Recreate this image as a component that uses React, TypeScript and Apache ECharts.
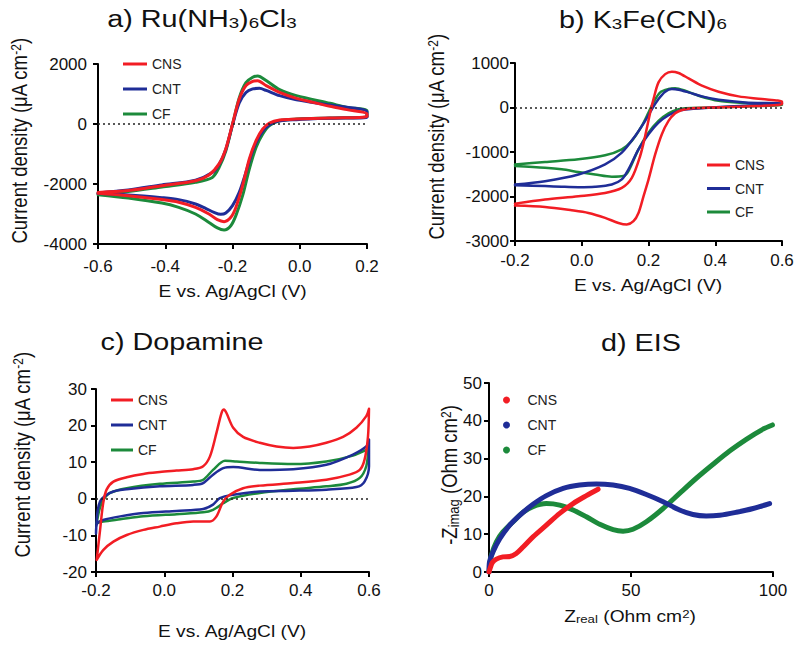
import React, { useEffect, useRef } from "react";
import * as echarts from "echarts";

const FONT = "'Liberation Sans', Arial, Helvetica, sans-serif";
const RED = "#f21d24";
const BLUE = "#1f2d97";
const GREEN = "#1c8a3b";

type P = [number, number];

const legendNames = ["CNS", "CNT", "CF"];

// ---------- a) Ru(NH3)6Cl3 : [E (V), j (uA cm-2)] ----------
const ruCNS: P[] = [
  [-0.6, -2280], [-0.51, -2220], [-0.41, -2055], [-0.31, -1890], [-0.27, -1700], [-0.24, -1330],
  [-0.22, -830], [-0.2, 0], [-0.18, 830], [-0.16, 1280], [-0.14, 1420], [-0.125, 1445],
  [-0.1, 1280], [-0.06, 1055], [-0.01, 855], [0.04, 720], [0.09, 590], [0.14, 480], [0.2, 330],
  [0.2, 245], [0.09, 200], [-0.01, 165], [-0.06, 135], [-0.09, 35], [-0.11, -165], [-0.13, -555],
  [-0.15, -1165], [-0.17, -2055], [-0.19, -2780], [-0.205, -3110], [-0.225, -3255], [-0.245, -3190],
  [-0.27, -3000], [-0.31, -2780], [-0.36, -2610], [-0.41, -2520], [-0.51, -2390], [-0.6, -2310],
];
const ruCNT: P[] = [
  [-0.6, -2300], [-0.51, -2200], [-0.41, -2030], [-0.31, -1870], [-0.26, -1620], [-0.24, -1350],
  [-0.22, -850], [-0.2, -30], [-0.18, 700], [-0.16, 1050], [-0.14, 1170], [-0.12, 1190],
  [-0.1, 1120], [-0.06, 945], [-0.01, 810], [0.09, 630], [0.2, 410],
  [0.2, 220], [0.09, 190], [-0.01, 145], [-0.07, 80], [-0.1, -110], [-0.12, -410], [-0.14, -890],
  [-0.16, -1610], [-0.18, -2280], [-0.2, -2720], [-0.22, -2965], [-0.235, -3010], [-0.255, -2945],
  [-0.28, -2810], [-0.31, -2665], [-0.36, -2520], [-0.41, -2455], [-0.51, -2365], [-0.6, -2320],
];
const ruCF: P[] = [
  [-0.6, -2330], [-0.51, -2250], [-0.41, -2100], [-0.31, -1945], [-0.26, -1780], [-0.24, -1450],
  [-0.22, -900], [-0.2, -20], [-0.18, 870], [-0.16, 1380], [-0.14, 1560], [-0.125, 1600],
  [-0.1, 1450], [-0.06, 1145], [-0.01, 945], [0.09, 690], [0.14, 555], [0.2, 445],
  [0.2, 245], [0.09, 200], [-0.01, 165], [-0.06, 110], [-0.09, -55], [-0.11, -335], [-0.13, -780],
  [-0.15, -1500], [-0.17, -2390], [-0.19, -3055], [-0.205, -3390], [-0.225, -3535], [-0.245, -3465],
  [-0.27, -3280], [-0.31, -3000], [-0.36, -2780], [-0.41, -2635], [-0.51, -2465], [-0.6, -2355],
];

// ---------- b) K3Fe(CN)6 ----------
const feCNS: P[] = [
  [-0.2, -2160], [-0.11, -2070], [-0.01, -1995], [0.07, -1920], [0.12, -1805], [0.15, -1580],
  [0.175, -1090], [0.19, -640], [0.205, -115], [0.215, 190], [0.23, 565], [0.25, 750], [0.27, 805],
  [0.29, 775], [0.32, 655], [0.36, 490], [0.41, 355], [0.47, 250], [0.54, 190], [0.6, 130],
  [0.6, 75], [0.49, 25], [0.39, 0], [0.33, -15], [0.3, -55], [0.28, -130], [0.26, -300], [0.24, -600],
  [0.22, -1055], [0.2, -1620], [0.185, -1995], [0.17, -2370], [0.155, -2555], [0.135, -2630],
  [0.11, -2595], [0.07, -2480], [0.02, -2370], [-0.03, -2310], [-0.11, -2235], [-0.2, -2205],
];
const feCNT: P[] = [
  [-0.2, -1730], [-0.11, -1655], [-0.01, -1505], [0.07, -1280], [0.12, -1015], [0.16, -640],
  [0.19, -300], [0.21, -40], [0.23, 190], [0.25, 355], [0.27, 415], [0.29, 400], [0.32, 340],
  [0.36, 250], [0.41, 175], [0.49, 115], [0.6, 90],
  [0.6, 75], [0.49, 40], [0.39, 0], [0.32, -40], [0.29, -75], [0.26, -175], [0.23, -340], [0.2, -600],
  [0.17, -940], [0.14, -1390], [0.12, -1615], [0.09, -1730], [0.04, -1780], [-0.01, -1790],
  [-0.06, -1780], [-0.11, -1765], [-0.2, -1745],
];
const feCF: P[] = [
  [-0.2, -1280], [-0.11, -1225], [-0.01, -1165], [0.07, -1075], [0.12, -940], [0.15, -750],
  [0.18, -415], [0.2, -115], [0.215, 115], [0.235, 340], [0.26, 415], [0.28, 430], [0.31, 375],
  [0.35, 265], [0.41, 150], [0.49, 100], [0.6, 55],
  [0.6, 55], [0.49, 25], [0.39, 0], [0.31, -15], [0.29, -40], [0.26, -130], [0.23, -300], [0.2, -565],
  [0.17, -940], [0.14, -1430], [0.125, -1540], [0.09, -1555], [0.04, -1505], [-0.01, -1450],
  [-0.06, -1390], [-0.11, -1355], [-0.2, -1315],
];

// ---------- c) Dopamine ----------
const dopCNS: P[] = [
  [-0.198, -16.7], [-0.188, -8.5], [-0.179, -1.2], [-0.169, 2.5], [-0.149, 4.7], [-0.11, 5.9],
  [-0.061, 6.8], [-0.013, 7.3], [0.036, 7.7], [0.085, 8.1], [0.114, 8.9], [0.134, 11.6], [0.153, 18.0],
  [0.168, 23.5], [0.175, 24.4], [0.182, 23.5], [0.202, 19.4], [0.231, 16.9], [0.28, 15.3], [0.329, 14.3],
  [0.378, 13.9], [0.426, 14.3], [0.475, 15.3], [0.524, 16.9], [0.563, 19.4], [0.592, 22.6], [0.6, 24.6],
  [0.597, 17.0], [0.587, 10.7], [0.573, 7.9], [0.543, 6.6], [0.475, 5.2], [0.378, 4.3], [0.28, 3.6],
  [0.231, 2.9], [0.192, 1.1], [0.173, -0.7], [0.153, -4.8], [0.134, -6.2], [0.085, -6.2], [0.036, -6.7],
  [-0.013, -7.6], [-0.061, -8.5], [-0.11, -9.9], [-0.149, -11.7], [-0.179, -14.0], [-0.198, -16.7],
];
const dopCNT: P[] = [
  [-0.2, -9.5], [-0.196, -3.9], [-0.188, -0.7], [-0.173, 0.8], [-0.149, 2.0], [-0.11, 2.6],
  [-0.013, 3.4], [0.085, 3.8], [0.114, 4.3], [0.143, 6.6], [0.173, 8.4], [0.202, 8.7], [0.28, 7.9],
  [0.378, 8.1], [0.475, 9.3], [0.553, 12.1], [0.592, 14.3], [0.6, 16.2],
  [0.6, 8.9], [0.587, 4.7], [0.563, 3.2], [0.475, 2.5], [0.378, 2.2], [0.28, 2.0], [0.202, 1.1],
  [0.163, 0.2], [0.143, -1.6], [0.114, -2.8], [0.036, -3.3], [-0.061, -3.9], [-0.129, -4.8],
  [-0.179, -5.8], [-0.197, -6.8], [-0.2, -9.5],
];
const dopCF: P[] = [
  [-0.198, -6.7], [-0.19, -3.0], [-0.179, -0.3], [-0.159, 1.6], [-0.11, 2.9], [-0.013, 4.1],
  [0.085, 4.7], [0.114, 5.2], [0.143, 7.9], [0.178, 10.4], [0.212, 10.2], [0.28, 9.8], [0.378, 9.5],
  [0.475, 10.2], [0.553, 11.8], [0.592, 13.4], [0.598, 13.9],
  [0.592, 8.9], [0.573, 5.7], [0.534, 4.1], [0.475, 3.4], [0.378, 2.6], [0.28, 1.6], [0.202, 0.2],
  [0.173, -1.2], [0.143, -3.0], [0.114, -3.7], [0.036, -4.2], [-0.061, -4.8], [-0.129, -5.6],
  [-0.179, -6.2], [-0.198, -6.7],
];

// ---------- d) EIS : [Zreal, -Zimag] (Ohm cm2) ----------
const eisCNS: P[] = [
  [0, 0], [0.5, 1.2], [1.2, 2.5], [2.6, 3.4], [4.9, 4.0], [7.3, 4.1], [9.6, 4.9], [12.0, 6.6],
  [15.5, 9.3], [20.2, 12.4], [24.9, 15.5], [29.6, 18.1], [34.3, 20.2], [38.4, 21.9],
];
const eisCNT: P[] = [
  [0, 0], [0.2, 2.7], [1.4, 5.3], [3.8, 8.8], [7.3, 12.4], [10.8, 15.0], [15.5, 17.9], [20.2, 20.2],
  [26.1, 22.1], [31.9, 23.0], [37.8, 23.3], [43.7, 23.0], [49.5, 22.1], [55.4, 20.5], [61.3, 18.6],
  [67.1, 16.4], [71.8, 15.2], [76.5, 14.8], [81.2, 15.0], [87.1, 15.8], [93.0, 16.8], [98.8, 18.1],
];
const eisCF: P[] = [
  [0, 0], [0.3, 2.0], [0.8, 4.4], [2.6, 8.0], [4.9, 10.6], [8.5, 13.3], [12.0, 15.8], [15.5, 17.3],
  [20.2, 18.1], [24.9, 17.7], [29.6, 16.4], [34.3, 14.6], [39.0, 12.6], [43.7, 11.2], [47.2, 10.8],
  [50.7, 11.3], [55.4, 13.3], [61.3, 16.8], [67.1, 20.8], [73.0, 24.8], [78.9, 28.5], [84.7, 32.0],
  [90.6, 35.1], [96.5, 37.8], [99.8, 38.9],
];

const fmt1 = (v: number) => (Math.abs(v) < 1e-9 ? 0 : v).toFixed(1);
const fmt0 = (v: number) => String(Math.round(v));

function curve(name: string, color: string, data: P[], idx: number, width: number, zero = false) {
  const s: any = {
    type: "line",
    name,
    xAxisIndex: idx,
    yAxisIndex: idx,
    data,
    symbol: "none",
    showSymbol: false,
    smooth: 0.3,
    color,
    lineStyle: { color, width, cap: "round", join: "round" },
  };
  if (zero) {
    s.markLine = {
      silent: true,
      symbol: ["none", "none"],
      label: { show: false },
      lineStyle: { type: [2, 3], color: "#222", width: 1.5 },
      data: [{ yAxis: 0 }],
    };
  }
  return s;
}

const axisCommon = {
  type: "value" as const,
  axisLine: { show: true, onZero: false, lineStyle: { color: "#000", width: 2 } },
  axisTick: { show: true, length: 5, lineStyle: { color: "#000", width: 2 } },
  splitLine: { show: false },
};
const lab = (margin: number, formatter: any) => ({
  color: "#111",
  fontSize: 17,
  fontFamily: FONT,
  margin,
  formatter,
});

function legend(left: number, top: number, w: number, h: number, gap: number, icon: string) {
  return {
    orient: "vertical",
    left,
    top,
    padding: 0,
    itemWidth: w,
    itemHeight: h,
    itemGap: gap,
    selectedMode: false,
    textStyle: { fontSize: 14, fontFamily: FONT, color: "#222" },
    data: legendNames.map((n) => ({ name: n, icon })),
  };
}

const mainT = (size: number) => ({ fontSize: size, fontFamily: FONT, fill: "#111" });

function txt(x: number, y: number, text: string, rich: any, rotate = false, scale = 1.2) {
  const el: any = {
    type: "text",
    x,
    y,
    silent: true,
    style: { text, rich, align: "center", verticalAlign: "middle", fontFamily: FONT, fill: "#111" },
  };
  if (rotate) {
    el.rotation = Math.PI / 2;
    el.scaleY = scale;
  } else {
    el.scaleX = scale;
  }
  return el;
}

const titleRich = {
  m: { ...mainT(23) },
  s: { ...mainT(15), verticalAlign: "bottom" },
};
const xNameRich = { m: { ...mainT(16) }, s: { ...mainT(11), verticalAlign: "bottom" }, p: { ...mainT(11), verticalAlign: "top" } };
const yNameRich = { m: { ...mainT(18.5) }, s: { ...mainT(13), verticalAlign: "bottom" }, p: { ...mainT(12), verticalAlign: "top" } };

export default function App() {
  const ref = useRef<HTMLDivElement>(null);
  useEffect(() => {
    if (!ref.current) return;
    const chart = echarts.init(ref.current, undefined, { renderer: "svg" });
    const option: any = {
      animation: false,
      backgroundColor: "#fff",
      grid: [
        { left: 98, top: 64, width: 269, height: 180 },
        { left: 515, top: 63, width: 267, height: 178 },
        { left: 96, top: 389, width: 273, height: 183 },
        { left: 489, top: 383, width: 284, height: 189 },
      ],
      xAxis: [
        { ...axisCommon, gridIndex: 0, min: -0.6, max: 0.2, interval: 0.2, axisLabel: lab(14, fmt1) },
        { ...axisCommon, gridIndex: 1, min: -0.2, max: 0.6, interval: 0.2, axisLabel: lab(11, fmt1) },
        { ...axisCommon, gridIndex: 2, min: -0.2, max: 0.6, interval: 0.2, axisLabel: lab(10, fmt1) },
        { ...axisCommon, gridIndex: 3, min: 0, max: 100, interval: 50, axisLabel: lab(10, fmt0) },
      ],
      yAxis: [
        { ...axisCommon, gridIndex: 0, min: -4000, max: 2000, interval: 2000, axisLabel: lab(11, fmt0) },
        { ...axisCommon, gridIndex: 1, min: -3000, max: 1000, interval: 1000, axisLabel: lab(6, fmt0) },
        { ...axisCommon, gridIndex: 2, min: -20, max: 30, interval: 10, axisLabel: lab(9, fmt0) },
        { ...axisCommon, gridIndex: 3, min: 0, max: 50, interval: 10, axisLabel: lab(7, fmt0) },
      ],
      legend: [
        legend(123, 57, 24, 3, 11, "rect"),
        legend(707, 158, 23, 3, 9.5, "rect"),
        legend(111, 393, 22, 3, 11, "rect"),
        legend(503, 393, 32, 7, 11, "circle"),
      ],
      series: [
        curve("CF", GREEN, ruCF, 0, 3, true),
        curve("CNT", BLUE, ruCNT, 0, 3),
        curve("CNS", RED, ruCNS, 0, 3),
        curve("CF", GREEN, feCF, 1, 2.5, true),
        curve("CNT", BLUE, feCNT, 1, 2.5),
        curve("CNS", RED, feCNS, 1, 2.5),
        curve("CF", GREEN, dopCF, 2, 2.5, true),
        curve("CNT", BLUE, dopCNT, 2, 2.5),
        curve("CNS", RED, dopCNS, 2, 2.5),
        curve("CF", GREEN, eisCF, 3, 5),
        curve("CNT", BLUE, eisCNT, 3, 5),
        curve("CNS", RED, eisCNS, 3, 5),
      ],
      graphic: {
        elements: [
          txt(202, 19, "{m|a) Ru(NH}{s|3}{m|)}{s|6}{m|Cl}{s|3}", titleRich, false, 1.25),
          txt(643, 20, "{m|b) K}{s|3}{m|Fe(CN)}{s|6}", titleRich, false, 1.25),
          txt(182, 342, "{m|c) Dopamine}", titleRich, false, 1.25),
          txt(641, 343, "{m|d) EIS}", titleRich, false, 1.25),
          txt(232.5, 292, "{m|E vs. Ag/AgCl (V)}", xNameRich),
          txt(648, 286, "{m|E vs. Ag/AgCl (V)}", xNameRich),
          txt(232, 632, "{m|E vs. Ag/AgCl (V)}", xNameRich),
          txt(630, 617, "{m|Z}{s|real}{m| (Ohm cm}{p|2}{m|)}", xNameRich),
          txt(20, 141, "{m|Current density (μA cm}{p|-2}{m|)}", yNameRich, true, 1.15),
          txt(437, 137, "{m|Current density (μA cm}{p|-2}{m|)}", yNameRich, true, 1.15),
          txt(22.5, 455, "{m|Current density (μA cm}{p|-2}{m|)}", yNameRich, true, 1.15),
          txt(450, 475, "{m|-Z}{s|imag}{m| (Ohm cm}{p|2}{m|)}", yNameRich, true, 1.15),
        ],
      },
    };
    chart.setOption(option);
    return () => chart.dispose();
  }, []);
  return (
    <div
      ref={ref}
      style={{ position: "fixed", left: 0, top: 0, width: 800, height: 648, background: "#fff" }}
    />
  );
}
